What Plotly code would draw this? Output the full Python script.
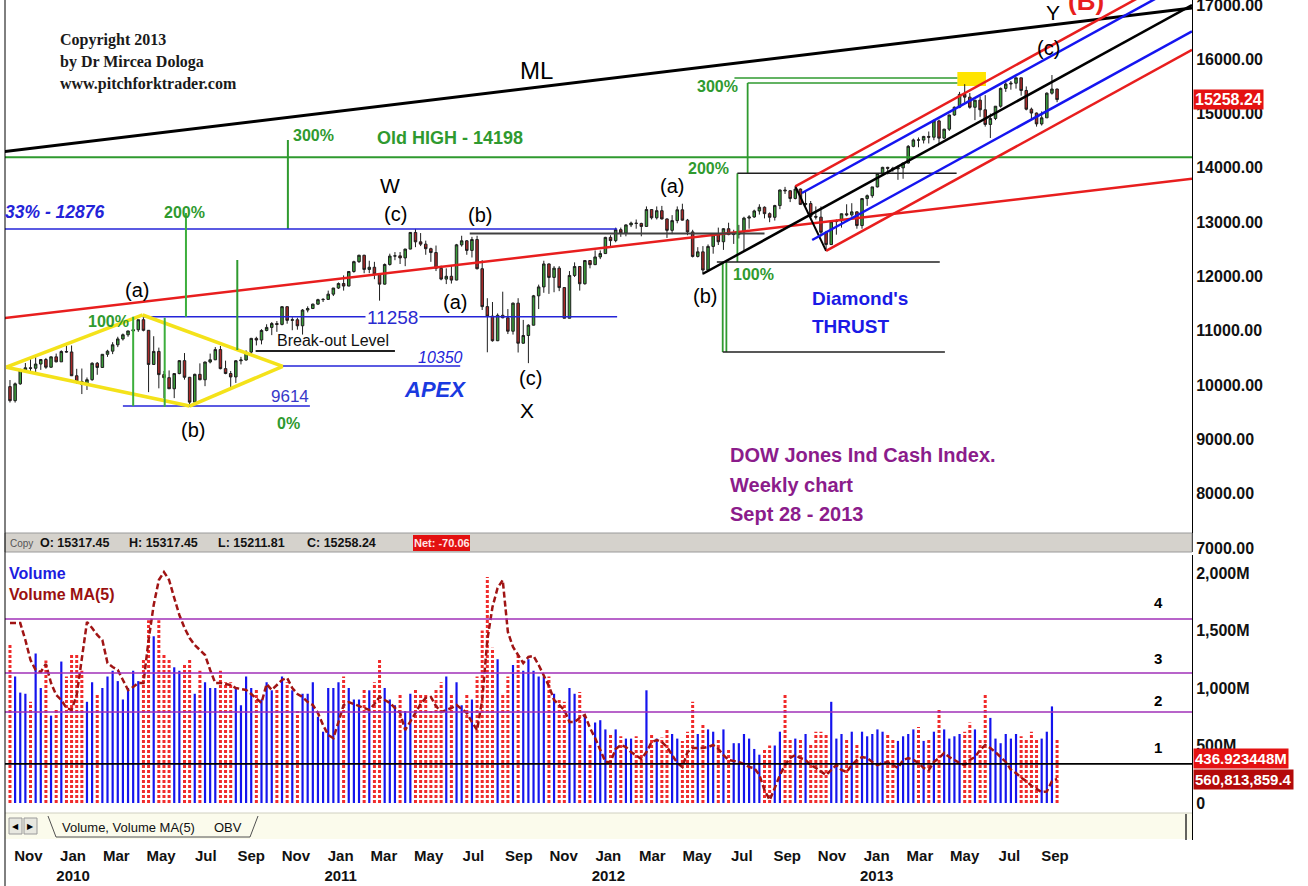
import plotly.graph_objects as go
import pandas as pd

W, H = 1308, 886
FONT = "Liberation Sans, Arial, Helvetica, sans-serif"
SERIF = "Liberation Serif, Times New Roman, serif"

# ---------------- data (weekly DJIA, week-start dates) ----------------
week_start = pd.date_range("2009-10-26", periods=205, freq="7D")

opens = [9972, 9713, 10023, 10271, 10318, 10310, 10388, 10471, 10329, 10520,
         10428, 10618, 10610, 10172, 10067, 10012, 10099, 10402, 10325, 10567,
         10625, 10742, 10850, 10927, 10997, 11019, 11204, 11009, 10380, 10620,
         10193, 10137, 9932, 10212, 10450, 10144, 9686, 10198, 10098, 10425,
         10466, 10654, 10303, 10213, 10150, 10448, 10462, 10608, 10860, 10830,
         11006, 11062, 11133, 11118, 11444, 11192, 11203, 11092, 11382, 11410,
         11491, 11573, 11578, 11675, 11787, 11871, 11824, 12092, 12273, 12391,
         12130, 12170, 12044, 11859, 12221, 12376, 12380, 12342, 12505, 12811,
         12638, 12596, 12512, 12441, 12151, 11952, 12004, 11934, 12583, 12657,
         12480, 12681, 12143, 11445, 11269, 10817, 11285, 11240, 10992, 11509,
         10771, 10913, 11103, 11644, 11808, 12231, 11983, 12153, 11796, 11231,
         12019, 12184, 11866, 12294, 12218, 12360, 12422, 12720, 12660, 12862,
         12801, 12950, 12983, 12977, 12922, 13233, 13081, 13212, 13060, 12850,
         13029, 13228, 13038, 12821, 12369, 12454, 12119, 12554, 12767, 12640,
         12880, 12772, 12777, 12822, 13075, 13096, 13207, 13275, 13157, 13090,
         13306, 13593, 13579, 13437, 13610, 13328, 13343, 13107, 13093, 12815,
         12588, 13010, 13026, 13155, 13135, 13190, 12938, 13435, 13488, 13650,
         13896, 14010, 13993, 13982, 14001, 14090, 14397, 14515, 14512, 14579,
         14565, 14865, 14548, 14713, 14974, 15118, 15354, 15303, 15116, 15248,
         15070, 14800, 14910, 15136, 15464, 15544, 15559, 15659, 15426, 15081,
         15010, 14810, 14922, 15376, 15452]

highs = [10093, 10047, 10300, 10406, 10480, 10517, 10480, 10500, 10525, 10580,
         10640, 10723, 10729, 10300, 10305, 10140, 10420, 10425, 10570, 10650,
         10790, 10890, 10950, 11000, 11150, 11205, 11258, 11010, 10900, 10690,
         10260, 10270, 10212, 10460, 10590, 10150, 10210, 10400, 10430, 10580,
         10700, 10720, 10450, 10260, 10460, 10520, 10640, 10870, 10890, 11030,
         11120, 11160, 11180, 11450, 11450, 11250, 11240, 11400, 11450, 11500,
         11590, 11600, 11740, 11790, 11890, 12020, 12100, 12290, 12400, 12400,
         12290, 12270, 12060, 12240, 12420, 12450, 12450, 12510, 12815, 12876,
         12800, 12660, 12530, 12570, 12200, 12150, 12200, 12600, 12750, 12670,
         12730, 12750, 12300, 11600, 11530, 11320, 11720, 11400, 11520, 11600,
         11200, 11120, 11660, 11850, 12290, 12240, 12190, 12190, 11800, 12100,
         12260, 12190, 12300, 12300, 12480, 12480, 12730, 12760, 12900, 12900,
         12960, 13010, 13050, 12990, 13290, 13240, 13290, 13300, 13070, 13130,
         13290, 13340, 13060, 12860, 12540, 12560, 12590, 12800, 12900, 12890,
         12990, 12860, 12950, 13100, 13130, 13230, 13330, 13290, 13180, 13320,
         13600, 13650, 13590, 13661, 13620, 13590, 13390, 13290, 13290, 12840,
         13020, 13050, 13160, 13330, 13350, 13200, 13440, 13510, 13650, 13900,
         14020, 14020, 14020, 14040, 14090, 14420, 14540, 14560, 14590, 14670,
         14890, 14890, 14720, 14980, 15130, 15400, 15542, 15380, 15250, 15320,
         15340, 15000, 15140, 15480, 15580, 15600, 15660, 15660, 15500, 15110,
         15020, 15040, 15390, 15710, 15460]

lows = [9679, 9678, 10005, 10250, 10232, 10235, 10280, 10300, 10320, 10420,
        10425, 10600, 10170, 10020, 9835, 9910, 10080, 10190, 10320, 10520,
        10570, 10700, 10820, 10890, 10980, 10980, 10990, 9870, 10370, 9940,
        9760, 9930, 9760, 10200, 10100, 9614, 9680, 10090, 9980, 10400,
        10460, 10290, 10200, 9940, 10040, 10380, 10450, 10540, 10730, 10750,
        10990, 10920, 10980, 11100, 11130, 11010, 11020, 10930, 11340, 11400,
        11480, 11530, 11570, 11640, 11770, 11740, 11820, 12070, 12250, 12060,
        12060, 11950, 11555, 11850, 12200, 12300, 12230, 12190, 12500, 12540,
        12560, 12400, 12270, 12100, 11930, 11860, 11870, 11930, 12550, 12400,
        12350, 12130, 11383, 10604, 10800, 10810, 11230, 10940, 10930, 10600,
        10760, 10404, 11100, 11400, 11700, 11680, 11710, 11730, 11230, 11230,
        11990, 11740, 11850, 12150, 12210, 12320, 12420, 12550, 12630, 12730,
        12740, 12910, 12880, 12740, 12920, 13050, 13050, 13050, 12710, 12780,
        12980, 13030, 12760, 12350, 12350, 12035, 12100, 12420, 12580, 12490,
        12760, 12600, 12700, 12480, 12880, 13080, 13140, 13070, 13000, 13030,
        13240, 13520, 13370, 13420, 13320, 13300, 13070, 13050, 12740, 12471,
        12580, 12770, 12900, 13110, 13100, 12880, 12880, 13300, 13450, 13640,
        13860, 13880, 13930, 13780, 13800, 14080, 14380, 14380, 14450, 14450,
        14510, 14440, 14530, 14680, 14960, 15100, 15200, 15090, 14880, 14940,
        14760, 14550, 14880, 15110, 15400, 15440, 15460, 15330, 15060, 14900,
        14760, 14780, 14920, 15350, 15210]

closes = [9713, 10023, 10271, 10318, 10310, 10388, 10471, 10329, 10520, 10428,
          10618, 10610, 10172, 10067, 10012, 10099, 10402, 10325, 10567, 10625,
          10742, 10850, 10927, 10997, 11019, 11204, 11009, 10380, 10620, 10193,
          10137, 9932, 10212, 10450, 10144, 9686, 10198, 10098, 10425, 10466,
          10654, 10303, 10213, 10150, 10448, 10462, 10608, 10860, 10830, 11006,
          11062, 11133, 11118, 11444, 11192, 11203, 11092, 11382, 11410, 11491,
          11573, 11578, 11675, 11787, 11871, 11824, 12092, 12273, 12391, 12130,
          12170, 12044, 11859, 12221, 12376, 12380, 12342, 12505, 12811, 12638,
          12596, 12512, 12441, 12151, 11952, 12004, 11934, 12583, 12657, 12480,
          12681, 12143, 11445, 11269, 10817, 11285, 11240, 10992, 11509, 10771,
          10913, 11103, 11644, 11808, 12231, 11983, 12153, 11796, 11231, 12019,
          12184, 11866, 12294, 12218, 12360, 12422, 12720, 12660, 12862, 12801,
          12950, 12983, 12977, 12922, 13233, 13081, 13212, 13060, 12850, 13029,
          13228, 13038, 12821, 12369, 12454, 12119, 12554, 12767, 12640, 12880,
          12772, 12777, 12822, 13075, 13096, 13207, 13275, 13157, 13090, 13306,
          13593, 13579, 13437, 13610, 13328, 13343, 13107, 13093, 12815, 12588,
          13010, 13026, 13155, 13135, 13190, 12938, 13435, 13488, 13650, 13896,
          14010, 13993, 13982, 14001, 14090, 14397, 14515, 14512, 14579, 14565,
          14865, 14548, 14713, 14974, 15118, 15354, 15303, 15116, 15248, 15070,
          14800, 14910, 15136, 15464, 15544, 15559, 15659, 15426, 15081, 15010,
          14810, 14922, 15376, 15452, 15258]

# weekly volume, millions of shares
volume_m = [1390, 1100, 960, 950, 880, 1300, 1000, 1240, 760, 820,
            1230, 1100, 1300, 1300, 1150, 880, 1050, 950, 1000, 1100,
            1150, 1060, 900, 1000, 1150, 1060, 1250, 1590, 1450, 1590,
            1300, 1250, 1180, 1150, 1200, 1250, 950, 1150, 1050, 1000,
            1000, 1150, 1050, 1050, 1000, 850, 1100, 1000, 1000, 900,
            1050, 980, 1000, 1100, 1050, 980, 800, 950, 950, 1050,
            750, 620, 1000, 1000, 1050, 1100, 1000, 900, 900, 1000,
            980, 1050, 1250, 1000, 900, 850, 950, 800, 950, 1000,
            950, 950, 800, 1000, 1050, 1100, 950, 1050, 850, 950,
            900, 1100, 1500, 1965, 1350, 1250, 950, 1100, 1200, 1300,
            1150, 1250, 1150, 1100, 1100, 1100, 950, 900, 880, 1000,
            950, 965, 760, 520, 700, 720, 640, 600, 640, 580,
            560, 560, 580, 560, 980, 600, 560, 570, 640, 600,
            560, 540, 620, 880, 600, 680, 640, 620, 560, 640,
            470, 520, 520, 600, 560, 470, 420, 470, 500, 500,
            620, 940, 560, 560, 560, 600, 520, 620, 620, 600,
            880, 560, 600, 560, 620, 520, 620, 580, 600, 640,
            620, 600, 560, 540, 580, 600, 640, 660, 540, 560,
            620, 810, 640, 560, 580, 600, 620, 700, 640, 560,
            940, 740, 560, 520, 600, 560, 600, 580, 560, 620,
            560, 560, 620, 840, 560]

volume_ma_m = [1565, 1565, 1565, 1417, 1243, 1157, 1139, 1209, 1043, 939,
               896, 826, 809, 939, 1270, 1574, 1522, 1461, 1417, 1217,
               1183, 1157, 1070, 983, 1009, 1043, 1043, 1417, 1722, 1939,
               2009, 1939, 1783, 1635, 1522, 1435, 1374, 1330, 1287, 1157,
               1043, 1043, 1035, 1026, 1000, 991, 983, 948, 913, 870,
               1035, 983, 1026, 1070, 1087, 1000, 948, 922, 878, 852,
               783, 678, 591, 565, 704, 852, 878, 861, 843, 826,
               809, 861, 922, 896, 870, 826, 783, 635, 704, 783,
               861, 913, 922, 843, 791, 809, 826, 852, 817, 783,
               704, 635, 896, 1417, 1704, 1870, 1939, 1487, 1357, 1287,
               1217, 1270, 1278, 1200, 1104, 1017, 896, 852, 809, 704,
               704, 739, 765, 652, 565, 461, 357, 357, 470, 504,
               487, 443, 409, 383, 443, 530, 548, 530, 487, 417,
               348, 313, 443, 478, 478, 478, 487, 504, 470, 417,
               374, 365, 357, 339, 313, 304, 243, 113, 26, 130,
               243, 330, 391, 417, 391, 374, 330, 304, 270, 243,
               287, 330, 287, 270, 330, 374, 400, 391, 357, 330,
               348, 357, 330, 304, 374, 391, 374, 348, 304, 287,
               357, 391, 435, 400, 374, 348, 330, 374, 400, 461,
               504, 478, 443, 400, 357, 290, 260, 220, 190, 150,
               120, 95, 100, 190, 210]

volume_levels = [1600, 1130, 791]          # purple guide lines 4, 3, 2
volume_base_level = 340                    # black guide line 1
price_ticks = list(range(7000, 17001, 1000))
vol_tick_vals = [0, 500, 1000, 1500, 2000]
vol_tick_text = ["0", "500M", "1,000M", "1,500M", "2,000M"]

month_starts = pd.date_range("2009-11-01", "2013-09-01", freq="2MS")
tick_text = [m.strftime("%b") + (f"<br>{m.year}" if m.month == 1 else "") for m in month_starts]
tick_vals = month_starts + pd.Timedelta(days=19)

for arr in (opens, highs, lows, closes, volume_m, volume_ma_m):
    assert len(arr) == len(week_start), len(arr)

# ---------------- colors ----------------
GREEN = "#2f9a2f"
BLUE = "#2424d8"
RED = "#e81e1e"
PURPLE = "#8b1c8b"
YELLOW = "#f4e21a"

fig = go.Figure()

fig.add_trace(go.Candlestick(
    x=week_start, open=opens, high=highs, low=lows, close=closes,
    increasing=dict(fillcolor="#3a9d3a", line=dict(color="#1e1e1e", width=1)),
    decreasing=dict(fillcolor="#a82828", line=dict(color="#1e1e1e", width=1)),
    whiskerwidth=0, xaxis="x", yaxis="y", showlegend=False, hoverinfo="skip"))

up_x, up_y, dn_x, dn_y = [], [], [], []
for d, o, c, v in zip(week_start, opens, closes, volume_m):
    if c >= o:
        up_x += [d, d, None]; up_y += [0, v, None]
    else:
        dn_x += [d, d, None]; dn_y += [0, v, None]

fig.add_trace(go.Scatter(x=dn_x, y=dn_y, mode="lines", xaxis="x2", yaxis="y2",
                         line=dict(color="#f02a2a", width=3, dash="3px,2px"),
                         showlegend=False, hoverinfo="skip"))
fig.add_trace(go.Scatter(x=up_x, y=up_y, mode="lines", xaxis="x2", yaxis="y2",
                         line=dict(color="#1414ee", width=2.2),
                         showlegend=False, hoverinfo="skip"))
fig.add_trace(go.Scatter(x=week_start, y=volume_ma_m, mode="lines", xaxis="x2", yaxis="y2",
                         line=dict(color="#a01414", width=2.5, dash="6px,3px"),
                         showlegend=False, hoverinfo="skip"))

# ---------------- drawings ----------------
shapes = []


def seg(x0, y0, x1, y1, color, width=2, xref="x", yref="y", dash=None, layer="above"):
    ln = dict(color=color, width=width)
    if dash:
        ln["dash"] = dash
    shapes.append(dict(type="line", x0=x0, y0=y0, x1=x1, y1=y1, xref=xref, yref=yref,
                       line=ln, layer=layer))


def prect(x0, y0, x1, y1, fill, line_color=None, lw=0, layer="above"):
    shapes.append(dict(type="rect", xref="paper", yref="paper",
                       x0=x0 / W, x1=x1 / W, y0=1 - y1 / H, y1=1 - y0 / H,
                       fillcolor=fill, line=dict(color=line_color or fill, width=lw), layer=layer))


def pline(x0, y0, x1, y1, color, width=1):
    shapes.append(dict(type="line", xref="paper", yref="paper",
                       x0=x0 / W, x1=x1 / W, y0=1 - y0 / H, y1=1 - y1 / H,
                       line=dict(color=color, width=width)))


LEFT, RIGHT = "2009-10-19", "2014-03-26"

# yellow highlight at 2013 top (behind candles)
shapes.append(dict(type="rect", xref="x", yref="y", x0="2013-05-10", x1="2013-06-18",
                   y0=15508, y1=15766, fillcolor="#ffe400", line=dict(width=0), layer="below"))

# Median line ML and long red trend line
seg(LEFT, 14300, RIGHT, 16945, "black", 3)
seg(LEFT, 11236, RIGHT, 13800, RED, 2.5)
# Old high
seg(0, 14198, 1, 14198, GREEN, 2, xref="x domain")
# 300% marker
seg("2010-11-09", 14514, "2010-11-09", 12876, GREEN, 2)
# horizontal levels
seg(LEFT, 12876, "2012-02-01", 12876, BLUE, 1.5)
seg("2010-04-25", 11258, "2012-02-01", 11258, BLUE, 1.5)
seg("2010-03-29", 9614, "2010-12-09", 9614, BLUE, 1.5)
seg("2010-11-02", 10350, "2011-07-02", 10350, BLUE, 1.5)
seg("2010-09-26", 10628, "2011-04-04", 10628, "#202020", 2)
seg("2011-07-15", 12790, "2012-08-20", 12790, "#404040", 2)
# diamond
dL, dT, dR, dB = ("2009-10-21", 10330), ("2010-04-25", 11291), ("2010-11-02", 10345), ("2010-06-28", 9614)
for a, b in ((dL, dT), (dT, dR), (dR, dB), (dB, dL)):
    seg(a[0], a[1], b[0], b[1], YELLOW, 3.5)
# diamond measurement verticals
seg("2010-04-12", 11258, "2010-04-12", 9614, "#3cae3c", 2)
seg("2010-05-25", 11240, "2010-05-25", 9600, "#3cae3c", 2)
seg("2010-06-23", 13170, "2010-06-23", 11258, "#3cae3c", 2)
seg("2010-09-01", 12304, "2010-09-01", 10646, "#2f9a2f", 2)

# Diamond's thrust projection (2012)
seg("2012-07-10", 15656, "2013-05-10", 15656, GREEN, 1.5)
seg("2012-07-28", 15564, "2013-05-10", 15564, GREEN, 1.5)
seg("2012-07-28", 15564, "2012-07-28", 13900, GREEN, 1.8)
seg("2012-07-14", 13900, "2012-07-14", 12267, GREEN, 1.8)
seg("2012-06-24", 12267, "2012-06-24", 10610, GREEN, 1.8)
seg("2012-06-29", 12267, "2012-06-29", 10610, GREEN, 1.8)
seg("2012-07-14", 13900, "2013-05-09", 13900, "#202020", 1.5)
seg("2012-06-16", 12267, "2013-04-16", 12267, "#202020", 1.5)
seg("2012-06-24", 10610, "2013-04-23", 10610, "#202020", 1.5)

# pitchfork
seg("2012-05-28", 12050, RIGHT, 17000, "black", 2.5)
seg("2012-10-01", 13661, "2012-11-12", 12471, "black", 2)
seg("2012-10-01", 13661, RIGHT, 17675, RED, 2.5)
seg("2012-11-12", 12471, RIGHT, 16174, RED, 2.5)
seg("2012-10-10", 13538, RIGHT, 17485, "#1515f0", 2.5)
seg("2012-10-24", 12672, RIGHT, 16516, "#1515f0", 2.5)

# volume guide lines
for lv in volume_levels:
    seg(0, lv, 1, lv, "#a030b8", 1.4, xref="x2 domain", yref="y2")
seg(0, volume_base_level, 1, volume_base_level, "black", 1.6, xref="x2 domain", yref="y2")

# status bar (OHLC read-out)
prect(5, 533, 1192, 552, "#d5d2cc", "#9a9a9a", 1)
prect(413, 535, 470, 551, "#e31010")
# tab bar
prect(5, 813, 1192, 839, "#fbfbec")
pline(5, 813, 1192, 813, "#d0d0c0", 1)
prect(9, 818, 22, 834, "#e8e8e0", "#9a9a9a", 1)
prect(24, 818, 37, 834, "#e8e8e0", "#9a9a9a", 1)
pline(48, 816, 56, 837, "#505050", 1)
pline(56, 837, 250, 837, "#505050", 1)
pline(250, 837, 258, 816, "#505050", 1)
pline(1186, 814, 1186, 840, "#303030", 1.5)
# frame left
pline(5, 0, 5, 886, "black", 1)

# ---------------- texts ----------------
ann = []


def label(x, y, text, size=18, color="black", xanchor="center", family=FONT, bg=None):
    d = dict(x=x / W, y=1 - y / H, xref="paper", yref="paper", text=text, showarrow=False,
             xanchor=xanchor, yanchor="middle", font=dict(family=family, size=size, color=color))
    if bg:
        d.update(bgcolor=bg, borderpad=1)
    ann.append(d)


label(58, 40, "<b>Copyright 2013</b>", 16, "#1a1a1a", "left", SERIF)
label(58, 62, "<b>by Dr Mircea Dologa</b>", 16, "#1a1a1a", "left", SERIF)
label(58, 84, "<b>www.pitchforktrader.com</b>", 16, "#1a1a1a", "left", SERIF)

label(536, 70, "ML", 24)
label(313, 136, "<b>300%</b>", 16, GREEN)
label(450, 138, "<b>Old HIGH - 14198</b>", 18, GREEN)
label(3, 212, "<b><i>33% - 12876</i></b>", 17.5, BLUE, "left")
label(184, 213, "<b>200%</b>", 16, GREEN)
label(137, 290, "(a)", 20)
label(108, 322, "<b>100%</b>", 16, GREEN)
label(193, 430, "(b)", 20)
label(290, 396, "9614", 17, "#3838c8")
label(288, 423, "<b>0%</b>", 16, GREEN)
label(333, 341, "Break-out Level", 16, "#111111")
label(392, 317, "11258", 19, "#2a2ad0", bg="white")
label(440, 357, "<i>10350</i>", 16, BLUE)
label(435, 389, "<b><i>APEX</i></b>", 22, "#1a3ae0")
label(390, 185, "W", 21)
label(395, 214, "(c)", 20)
label(480, 215, "(b)", 20)
label(455, 302, "(a)", 20)
label(530, 378, "(c)", 20)
label(527, 410, "X", 21)
label(672, 186, "(a)", 20)
label(705, 296, "(b)", 20)
label(717, 87, "<b>300%</b>", 16, GREEN)
label(708, 168, "<b>200%</b>", 16, GREEN)
label(753, 275, "<b>100%</b>", 16, GREEN)
label(810, 298, "<b>Diamond's</b>", 19, "#1a1ae6", "left")
label(810, 326, "<b>THRUST</b>", 19, "#1a1ae6", "left")
label(728, 455, "<b>DOW Jones Ind Cash Index.</b>", 20, PURPLE, "left")
label(728, 485, "<b>Weekly chart</b>", 20, PURPLE, "left")
label(728, 514, "<b>Sept 28 - 2013</b>", 20, PURPLE, "left")
label(1053, 12, "Y", 21)
label(1048, 48, "(c)", 20)
label(1086, 1, "<b>(B)</b>", 26, RED)

label(1193, 100, "<b>15258.24</b>", 16, "white", "left", bg="#e41212")

label(8, 543, "Copy", 10, "#555555", "left")
label(38, 543, "<b>O: 15317.45</b>", 12.5, "#111111", "left")
label(127, 543, "<b>H: 15317.45</b>", 12.5, "#111111", "left")
label(216, 543, "<b>L: 15211.81</b>", 12.5, "#111111", "left")
label(305, 543, "<b>C: 15258.24</b>", 12.5, "#111111", "left")
label(441.5, 543, "<b>Net: -70.06</b>", 11, "#ffe6e6")

label(7, 573, "<b>Volume</b>", 16, "#1c1ce0", "left")
label(7, 594, "<b>Volume MA(5)</b>", 16, "#9a1010", "left")
label(1158, 602, "<b>4</b>", 15)
label(1158, 658, "<b>3</b>", 15)
label(1158, 700, "<b>2</b>", 15)
label(1158, 747, "<b>1</b>", 15)
label(1193, 758, "<b>436.923448M</b>", 15, "white", "left", bg="#e41212")
label(1193, 779, "<b>560,813,859.4</b>", 15, "white", "left", bg="#b40a0a")

label(15.5, 826, "◀", 8, "black")
label(30.5, 826, "▶", 8, "black")
label(60, 827, "Volume, Volume MA(5)", 13, "#111111", "left")
label(212, 827, "OBV", 13, "#111111", "left")

# ---------------- layout ----------------
X_DOM = [5 / W, 1192 / W]
tick_font = dict(family=FONT, size=16, color="#111111", weight="bold")

fig.update_layout(
    width=W, height=H, margin=dict(l=0, r=0, t=0, b=0, autoexpand=False),
    paper_bgcolor="white", plot_bgcolor="white", showlegend=False, hovermode=False,
    xaxis=dict(domain=X_DOM, range=["2009-10-19 05:00", RIGHT], anchor="y", automargin=False,
               showticklabels=False, showgrid=False, zeroline=False,
               rangeslider=dict(visible=False)),
    yaxis=dict(domain=[1 - 552 / H, 1], range=[6926, 17092], side="right", automargin=False,
               tickvals=price_ticks, tickformat=".2f", showgrid=False, zeroline=False,
               showline=True, linecolor="black", linewidth=1, ticks="", tickfont=tick_font,
               ticklabeloverflow="allow"),
    xaxis2=dict(domain=X_DOM, matches="x", anchor="y2", tickvals=tick_vals, ticktext=tick_text,
                showgrid=False, zeroline=False, showline=False, ticks="", automargin=False,
                ticklabelstandoff=5,
                tickfont=dict(family=FONT, size=15, color="#111111", weight="bold")),
    yaxis2=dict(domain=[1 - 840 / H, 1 - 555 / H], range=[-321.7, 2156.5], side="right",
                automargin=False,
                tickvals=vol_tick_vals, ticktext=vol_tick_text, showgrid=False, zeroline=False,
                showline=True, linecolor="black", linewidth=1, ticks="", tickfont=tick_font),
    shapes=shapes, annotations=ann,
)

fig.write_html("out.html", config={"displayModeBar": False},
               post_script="document.body.style.margin='0';document.body.style.overflow='hidden';")
